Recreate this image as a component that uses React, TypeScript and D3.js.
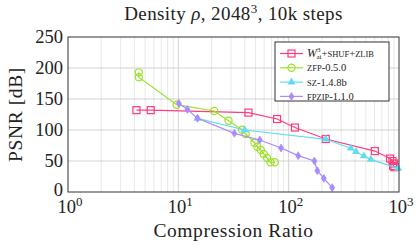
import React from 'react';
import { useEffect, useRef } from 'react';
import * as d3 from 'd3';

// series values (compression ratio, PSNR dB)
const waiRatio = [4.17, 5.62, 43.2, 78.5, 114, 217, 604, 830, 873, 903, 885, 910];
const waiPsnr = [132, 132, 128, 117.7, 104, 85.5, 66, 54, 50, 46, 42, 40];

const zfpRatio = [4.38, 4.38, 9.67, 21.1, 28.5, 37.8, 40.8, 49, 52, 55.9, 59.4, 63.7, 68.4, 74.8];
const zfpPsnr = [193, 185, 140.8, 130.6, 115, 100.5, 93.5, 79.5, 73, 67.7, 61.3, 54.8, 47.9, 47.9];

const szRatio = [14.9, 40, 217, 366, 408, 480, 555, 982];
const szPsnr = [118.8, 100, 85, 70.5, 65, 58, 52.7, 38.2];

const fpzipRatio = [10.1, 12.1, 14.9, 32.2, 54.7, 85.3, 122, 171, 182, 208, 248];
const fpzipPsnr = [143, 133, 118.8, 94.6, 83.9, 71, 58.6, 50, 34.4, 22, 7];

const yTicks = [0, 50, 100, 150, 200, 250];
const xDecades = [0, 1, 2, 3];

const FONT = "'Liberation Serif', 'Times New Roman', serif";

function Chart() {
    const svgNode = useRef<SVGSVGElement>(null);
    const width = 418;
    const height = 245;
    const margin = { top: 37, right: 19, bottom: 53, left: 68 };

    useEffect(() => {
        const svg = d3.select(svgNode.current);
        svg.selectAll("*").remove();

        const x = d3.scaleLog().domain([1, 1000]).range([margin.left, width - margin.right]);
        const y = d3.scaleLinear().domain([0, 250]).range([height - margin.bottom, margin.top]);
        const x0 = x.range()[0], x1 = x.range()[1];
        const y0 = y.range()[0], y1 = y.range()[1];

        //grid: minor then major
        const minor: number[] = [];
        for (let e = 0; e < 3; e++) for (let k = 2; k <= 9; k++) minor.push(k * Math.pow(10, e));
        const g = svg.append("g");
        g.selectAll(".minor").data(minor).join("line")
            .attr("x1", d => x(d)).attr("x2", d => x(d))
            .attr("y1", y0).attr("y2", y1)
            .attr("stroke", "#e3e3e3").attr("stroke-width", 0.8);
        g.selectAll(".majx").data(xDecades.slice(1, 3)).join("line")
            .attr("x1", d => x(Math.pow(10, d))).attr("x2", d => x(Math.pow(10, d)))
            .attr("y1", y0).attr("y2", y1)
            .attr("stroke", "#c8c8c8").attr("stroke-width", 0.8);
        g.selectAll(".majy").data(yTicks.slice(1, -1)).join("line")
            .attr("x1", x0).attr("x2", x1)
            .attr("y1", d => y(d)).attr("y2", d => y(d))
            .attr("stroke", "#c8c8c8").attr("stroke-width", 0.8);

        //series
        const series = [
            { xs: waiRatio, ys: waiPsnr, color: "#ff3c7d", mark: "square" },
            { xs: zfpRatio, ys: zfpPsnr, color: "#9ee02c", mark: "circle" },
            { xs: szRatio, ys: szPsnr, color: "#62dcf0", mark: "triangle" },
            { xs: fpzipRatio, ys: fpzipPsnr, color: "#a98bff", mark: "diamond" },
        ];
        const line = d3.line<[number, number]>().x(d => x(d[0])).y(d => y(d[1]));

        const drawMark = (sel: any, mark: string, color: string, cx: number, cy: number) => {
            if (mark === "square") {
                sel.append("rect").attr("x", cx - 3.5).attr("y", cy - 3.5).attr("width", 7).attr("height", 7)
                    .attr("fill", "none").attr("stroke", color).attr("stroke-width", 1.2);
            } else if (mark === "circle") {
                sel.append("circle").attr("cx", cx).attr("cy", cy).attr("r", 3.6)
                    .attr("fill", "none").attr("stroke", color).attr("stroke-width", 1.2);
            } else if (mark === "triangle") {
                sel.append("path").attr("d", d3.symbol(d3.symbolTriangle, 28)())
                    .attr("transform", `translate(${cx},${cy})`).attr("fill", color);
            } else {
                sel.append("path").attr("d", `M0,-4L2.6,0L0,4L-2.6,0Z`)
                    .attr("transform", `translate(${cx},${cy})`).attr("fill", color).attr("stroke", color).attr("stroke-width", 0.6);
            }
        };

        series.forEach(s => {
            const pts = s.xs.map((v, i) => [v, s.ys[i]] as [number, number]);
            svg.append("path").attr("d", line(pts)).attr("fill", "none")
                .attr("stroke", s.color).attr("stroke-width", 1.2);
            const mg = svg.append("g");
            pts.forEach(p => drawMark(mg, s.mark, s.color, x(p[0]), y(p[1])));
        });

        //axis frame
        svg.append("rect").attr("x", x0).attr("y", y1).attr("width", x1 - x0).attr("height", y0 - y1)
            .attr("fill", "none").attr("stroke", "#333").attr("stroke-width", 1);

        //y tick labels
        svg.append("g").selectAll("text").data(yTicks).join("text")
            .attr("x", x0 - 5).attr("y", d => y(d) + 6 - (d === 0 ? 2 : 0))
            .attr("text-anchor", "end").style("font-family", FONT).attr("font-size", 18.5)
            .attr("fill", "#222").text(d => d);

        //x tick labels 10^k
        const xt = svg.append("g").selectAll("text").data(xDecades).join("text")
            .attr("x", d => x(Math.pow(10, d)) + 2).attr("y", 213)
            .attr("text-anchor", "middle").style("font-family", FONT).attr("font-size", 18.5)
            .attr("fill", "#222");
        xt.append("tspan").text("10");
        xt.append("tspan").attr("dy", -7).attr("font-size", 13).text(d => d);

        //axis labels
        svg.append("text").attr("x", (x0 + x1) / 2).attr("y", 237)
            .attr("text-anchor", "middle").style("font-family", FONT).attr("font-size", 19.5)
            .attr("letter-spacing", 0.6).attr("fill", "#222").text("Compression Ratio");
        svg.append("text").attr("transform", `translate(22,${(y0 + y1) / 2}) rotate(-90)`)
            .attr("text-anchor", "middle").style("font-family", FONT).attr("font-size", 19.5)
            .attr("letter-spacing", 0.6).attr("fill", "#222").text("PSNR [dB]");

        //title
        const title = svg.append("text").attr("x", (x0 + x1) / 2).attr("y", 20)
            .attr("text-anchor", "middle").style("font-family", FONT).attr("font-size", 19)
            .attr("letter-spacing", 0.4).attr("fill", "#222");
        title.append("tspan").text("Density ");
        title.append("tspan").attr("font-style", "italic").text("ρ");
        title.append("tspan").text(", 2048");
        title.append("tspan").attr("dy", -7).attr("font-size", 13).text("3");
        title.append("tspan").attr("dy", 7).text(", 10k steps");

        //legend
        const lg = svg.append("g");
        lg.append("rect").attr("x", 275).attr("y", 42).attr("width", 114).attr("height", 59)
            .attr("fill", "white").attr("stroke", "#333").attr("stroke-width", 1);
        const labels = ["SHUF+ZLIB", "ZFP-0.5.0", "SZ-1.4.8b", "FPZIP-1.1.0"];
        series.forEach((s, i) => {
            const ly = 53.5 + i * 14.3;
            lg.append("line").attr("x1", 280).attr("x2", 303).attr("y1", ly).attr("y2", ly)
                .attr("stroke", s.color).attr("stroke-width", 1.2);
            drawMark(lg, s.mark, s.color, 291.5, ly);
            const t = lg.append("text").attr("x", 307).attr("y", ly + 3.5)
                .style("font-family", FONT).attr("font-size", 8.5).attr("fill", "#222");
            if (i === 0) {
                t.append("tspan").attr("font-style", "italic").attr("font-size", 12).text("W");
                t.append("tspan").attr("dy", -5).attr("font-size", 7).text("3");
                t.append("tspan").attr("dx", -4).attr("dy", 7).attr("font-size", 7).text("ai");
                t.append("tspan").attr("dy", -2).attr("font-size", 10.5).text("+");
                t.append("tspan").text("SHUF");
                t.append("tspan").attr("font-size", 10.5).text("+");
                t.append("tspan").text("ZLIB");
            } else {
                const parts = labels[i].split("-");
                t.append("tspan").text(parts[0]);
                t.append("tspan").attr("font-size", 10.5).text("-" + parts.slice(1).join("-"));
            }
        });
    }, []);

    return (
        <svg ref={svgNode} width={width} height={height} style={{ display: "block" }}></svg>
    );
}

export default function App() {
    return (
        <div style={{ position: "absolute", left: 0, top: 0, background: "white" }}>
            <Chart />
        </div>
    );
}
